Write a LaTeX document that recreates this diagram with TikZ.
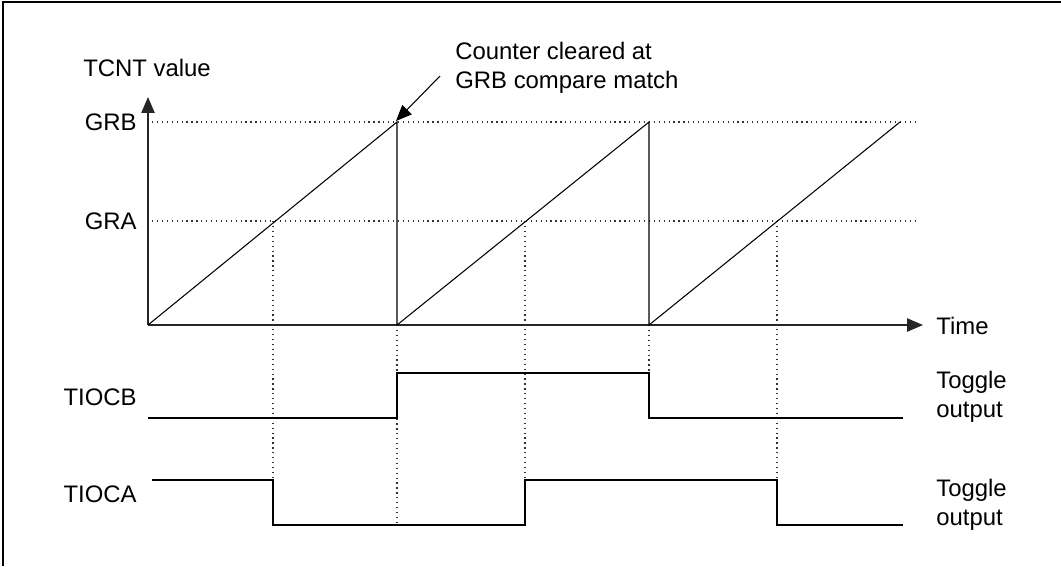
\documentclass[tikz,border=0pt]{standalone}
\usepackage{fontspec}
\setmainfont{Liberation Sans}
\usetikzlibrary{positioning,arrows.meta}
\tikzset{
  axisline/.style={-{Triangle[length=9pt, width=7.5pt]}, line width=0.8pt, black!85},
  rampline/.style={line width=0.6pt},
  waveline/.style={line width=0.7pt},
  guideline/.style={line width=0.7pt, dash pattern=on 0.7pt off 2.1pt, black!80},
  calloutarrow/.style={-{Triangle[length=9pt, width=7.5pt]}, line width=0.6pt},
  siglabel/.style={anchor=east, inner sep=0pt},
  notelabel/.style={anchor=west, align=left, inner sep=0pt}
}

\begin{document}
\begin{tikzpicture}[x=0.02cm, y=-0.02cm, every node/.style={font=\fontsize{13.6}{16.5}\selectfont}]
  \useasboundingbox (0,0) rectangle (1061,566);
  % frame edges
  \draw[line width=1.1pt] (3,566) -- (3,2) -- (1061,2);

  \coordinate (O) at (148,325);
  \coordinate (ytop) at (148,97);
  \coordinate (xend) at (923,325);

  % level and timing guides
  \draw[guideline] (152,122) -- (916,122);
  \draw[guideline] (152,221) -- (916,221);
  \draw[guideline] (273,221) -- (273,480);
  \draw[guideline] (397,325) -- (397,525);
  \draw[guideline] (525,221) -- (525,480);
  \draw[guideline] (649,325) -- (649,373);
  \draw[guideline] (777,221) -- (777,480);

  % axes
  \draw[axisline] (O) -- (ytop);
  \draw[axisline] (O) -- (xend);

  % counter ramps
  \draw[rampline] (O) -- (397,122) -- (397,325) -- (649,122) -- (649,325) -- (900,122);

  % outputs
  \draw[waveline] (148,418) -- (397,418) -- (397,373) -- (649,373) -- (649,418) -- (903,418);
  \draw[waveline] (152,480) -- (273,480) -- (273,525) -- (525,525) -- (525,480) -- (777,480) -- (777,525) -- (903,525);

  % labels
  \node[anchor=west, inner sep=0pt] (tcnt) at (83,68) {TCNT value};
  \node[siglabel] (grb) at (137,122) {GRB};
  \node[siglabel] (gra) at (137,221) {GRA};
  \node[siglabel] (tiocb) at (137,397) {TIOCB};
  \node[siglabel] (tioca) at (137,494) {TIOCA};
  \node[notelabel] (time) at (936,326) {Time};
  \node[notelabel] (togb) at (936,397) {Toggle\\output};
  \node[notelabel] (toga) at (936,505) {Toggle\\output};

  % callout
  \node[notelabel] (note) at (455,68) {Counter cleared at\\GRB compare match};
  \coordinate (notetail) at (440,76);
  \coordinate (clear) at (396,121);
  \draw[calloutarrow] (notetail) -- (clear);
\end{tikzpicture}
\end{document}
